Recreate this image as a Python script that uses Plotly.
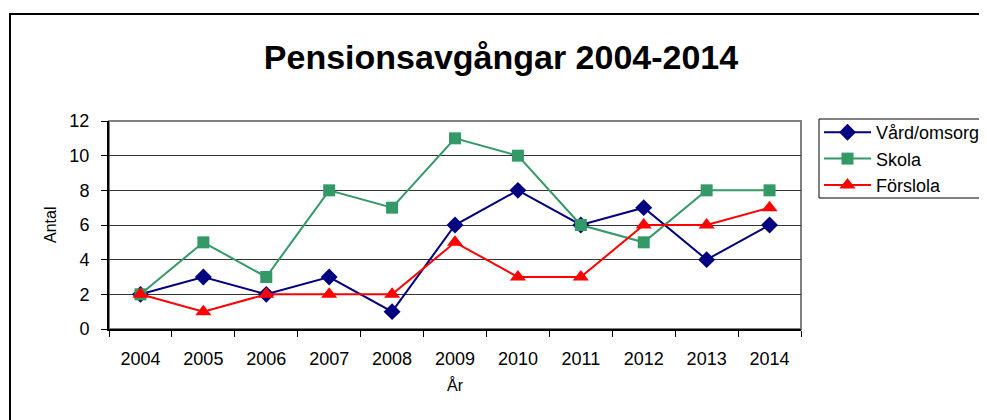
import plotly.graph_objects as go

years = ["2004", "2005", "2006", "2007", "2008", "2009", "2010", "2011", "2012", "2013", "2014"]
vard = [2, 3, 2, 3, 1, 6, 8, 6, 7, 4, 6]
skola = [2, 5, 3, 8, 7, 11, 10, 6, 5, 8, 8]
forskola = [2, 1, 2, 2, 2, 5, 3, 3, 6, 6, 7]

FONT = "Liberation Sans, Arial, sans-serif"

fig = go.Figure()
fig.add_trace(go.Scatter(x=years, y=vard, name="Vård/omsorg", mode="lines+markers",
                         line=dict(color="#000080", width=2),
                         marker=dict(symbol="diamond", size=13, color="#000080")))
fig.add_trace(go.Scatter(x=years, y=skola, name="Skola", mode="lines+markers",
                         line=dict(color="#339966", width=2),
                         marker=dict(symbol="square", size=12, color="#339966")))
fig.add_trace(go.Scatter(x=years, y=forskola, name="Förslola", mode="lines+markers",
                         line=dict(color="#FF0000", width=2),
                         marker=dict(symbol="triangle-up", size=14, color="#FF0000")))

# page body has an 8px margin: work in screen coords and subtract it
OFF = 8
W, H = 987, 420
SL, ST, SR, SB = 109, 121, 801, 329  # plot area on screen
L, T = SL - OFF, ST - OFF
pw, ph = SR - SL, SB - ST
R = W - L - pw
B = H - T - ph

def px(x):
    return (x - SL) / pw

def py(y):
    return 1 - (y - ST) / ph

shapes = [
    dict(type="rect", xref="paper", yref="paper", x0=px(10), x1=px(1200), y0=py(600), y1=py(14),
         line=dict(color="black", width=2), fillcolor="rgba(0,0,0,0)", layer="below"),
    dict(type="rect", xref="paper", yref="paper", x0=0, x1=1, y0=0, y1=1,
         line=dict(color="#808080", width=2), fillcolor="rgba(0,0,0,0)", layer="below"),
    dict(type="rect", xref="paper", yref="paper", x0=px(819), x1=px(1200), y0=py(198), y1=py(119),
         line=dict(color="black", width=1), fillcolor="rgba(0,0,0,0)", layer="above"),
]

annotations = [
    dict(text="Antal", xref="paper", yref="paper", x=px(50), y=py(225), textangle=-90,
         showarrow=False, xanchor="center", yanchor="middle", font=dict(size=16, family=FONT)),
    dict(text="År", xref="paper", yref="paper", x=px(455), y=py(385),
         showarrow=False, xanchor="center", yanchor="middle", font=dict(size=16, family=FONT)),
]

fig.update_layout(
    width=W, height=H,
    margin=dict(l=L, r=R, t=T, b=B, autoexpand=False),
    paper_bgcolor="white", plot_bgcolor="white",
    font=dict(family=FONT, color="black", size=18),
    title=dict(text="<b>Pensionsavgångar 2004-2014</b>", x=(501 - OFF) / W, xanchor="center",
               xref="container", y=1 - (57 - OFF) / H, yanchor="middle", yref="container",
               font=dict(size=34, family=FONT)),
    showlegend=True,
    legend=dict(x=px(819), y=py(114), xanchor="left", yanchor="top",
                borderwidth=0, bgcolor="rgba(0,0,0,0)",
                font=dict(size=18, family=FONT), tracegroupgap=0, itemwidth=47),
    shapes=shapes,
    annotations=annotations,
    xaxis=dict(type="category", range=[-0.5, 10.5], showgrid=False, automargin=False,
               showline=True, linecolor="black", linewidth=2, mirror=False,
               ticks="outside", ticklen=6, tickcolor="black", tickson="boundaries",
               ticklabelstandoff=12, tickfont=dict(size=18)),
    yaxis=dict(range=[0, 12], dtick=2, showgrid=True, gridcolor="#333333", gridwidth=1,
               showline=True, linecolor="black", linewidth=2, automargin=False,
               ticks="outside", ticklen=6, tickcolor="black", zeroline=False,
               ticklabelstandoff=8, tickfont=dict(size=18)),
)

fig.write_html("out.html")
